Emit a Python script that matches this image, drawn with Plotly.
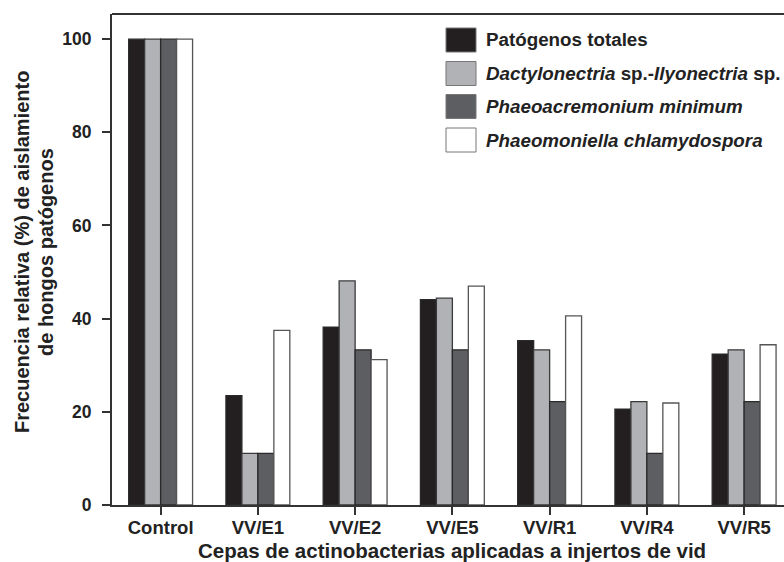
import plotly.graph_objects as go

categories = ["Control", "VV/E1", "VV/E2", "VV/E5", "VV/R1", "VV/R4", "VV/R5"]
patogenos_totales = [100, 23.5, 38.2, 44.1, 35.3, 20.6, 32.4]
dactylonectria = [100, 11.1, 48.1, 44.4, 33.3, 22.2, 33.3]
phaeoacremonium = [100, 11.1, 33.3, 33.3, 22.2, 11.1, 22.2]
phaeomoniella = [100, 37.5, 31.2, 47.0, 40.6, 21.9, 34.4]
y_ticks = [0, 20, 40, 60, 80, 100]

series_names = [
    "Patógenos totales",
    "<i>Dactylonectria</i> sp.-<i>Ilyonectria</i> sp.",
    "<i>Phaeoacremonium minimum</i>",
    "<i>Phaeomoniella chlamydospora</i>",
]
series_values = [patogenos_totales, dactylonectria, phaeoacremonium, phaeomoniella]
colors = ["#231f20", "#b1b2b5", "#5d5e61", "#ffffff"]
outlines = ["#2a2a2a", "#3a3a3a", "#2a2a2a", "#555555"]

x_title = "Cepas de actinobacterias aplicadas a injertos de vid"
y_title_lines = ["Frecuencia relativa (%) de aislamiento", "de hongos patógenos"]

FONT = "Liberation Sans, Arial, sans-serif"
W, H = 784, 562
ML, MT, MB, MR = 112, 14, 57, 0
PW, PH = W - ML - MR, H - MT - MB

fig = go.Figure()
for name, vals, c, oc in zip(series_names, series_values, colors, outlines):
    fig.add_trace(go.Bar(x=categories, y=vals, name=name, marker_color=c,
                         marker_line_color=oc, marker_line_width=1.3))

def px_x(x):
    return (x - ML) / PW

def px_y(y):
    return 1 - (y - MT) / PH

shapes = [dict(type="line", xref="paper", yref="paper", x0=0, x1=1, y0=1, y1=1,
               line=dict(color="#333333", width=2))]
annotations = []
row_centers = [40, 73.5, 106.5, 140]
for name, c, yc in zip(series_names, colors, row_centers):
    shapes.append(dict(type="rect", xref="paper", yref="paper",
                       x0=px_x(446), x1=px_x(476), y0=px_y(yc - 12), y1=px_y(yc + 12),
                       fillcolor=c, line=dict(color="#777777", width=1)))
    annotations.append(dict(xref="paper", yref="paper", x=px_x(484), y=px_y(yc),
                            xanchor="left", yanchor="middle", showarrow=False,
                            text="<b>" + name + "</b>",
                            font=dict(size=18.8, color="#222222", family=FONT)))

# axis titles
annotations.append(dict(xref="paper", yref="paper", x=px_x(452), y=px_y(550),
                        xanchor="center", yanchor="middle", showarrow=False,
                        text="<b>" + x_title + "</b>",
                        font=dict(size=20.5, color="#222222", family=FONT)))
for line, xc in zip(y_title_lines, [22, 46]):
    annotations.append(dict(xref="paper", yref="paper", x=px_x(xc), y=px_y(252),
                            xanchor="center", yanchor="middle", showarrow=False,
                            textangle=-90, text="<b>" + line + "</b>",
                            font=dict(size=20, color="#222222", family=FONT)))

fig.update_layout(
    width=W, height=H,
    margin=dict(l=ML, r=MR, t=MT, b=MB),
    paper_bgcolor="white", plot_bgcolor="white",
    barmode="group", bargap=0.343, bargroupgap=0,
    showlegend=False,
    font=dict(family=FONT, color="#222222"),
    shapes=shapes, annotations=annotations,
    xaxis=dict(range=[-0.5, 6.41], showline=True, linecolor="#333333", linewidth=2,
               ticks="outside", ticklen=8, tickwidth=1.5, tickcolor="#333333",
               tickfont=dict(size=18.5, weight="bold"), showgrid=False,
               ticklabelstandoff=-3),
    yaxis=dict(range=[0, 105.4], tickvals=y_ticks, showline=True, linecolor="#333333",
               linewidth=2, ticks="outside", ticklen=8, tickwidth=1.5, tickcolor="#333333",
               tickfont=dict(size=17.5, weight="bold"), showgrid=False, zeroline=False,
               ticklabelstandoff=7),
)

fig.write_html("out.html")
